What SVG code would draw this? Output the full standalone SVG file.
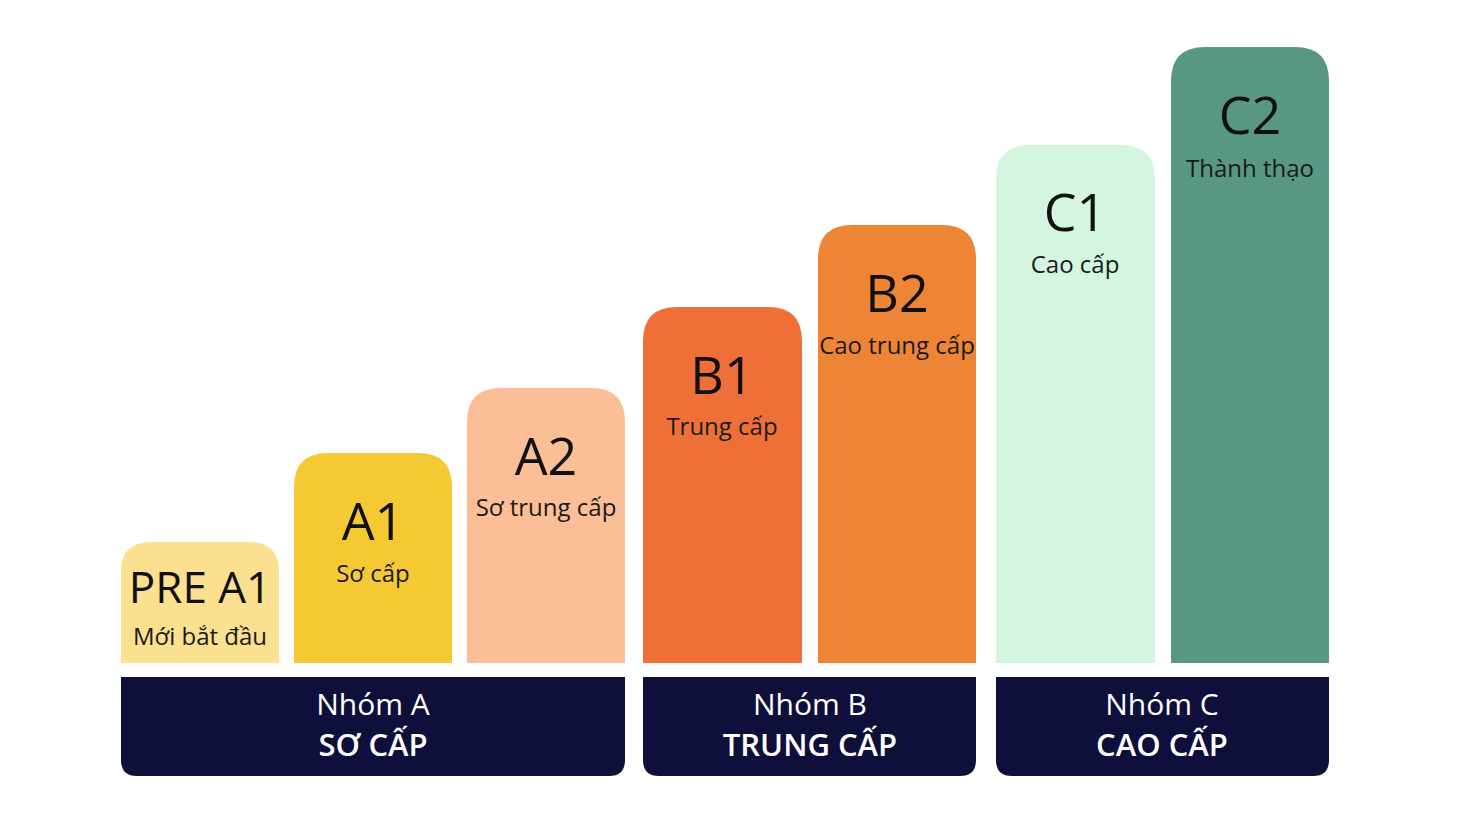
<svg xmlns="http://www.w3.org/2000/svg" width="1464" height="819" viewBox="0 0 1464 819">
<style>
.h{font-family:"Open Sans","Noto Sans",sans-serif;font-size:52px;fill:#111;text-anchor:middle}
.s{font-family:"Open Sans","Noto Sans",sans-serif;font-size:24px;fill:#1a1a1a;text-anchor:middle}
.g1{font-family:"Open Sans","Noto Sans",sans-serif;font-size:30px;fill:#fff;text-anchor:middle}
.g2{font-family:"Open Sans","Noto Sans",sans-serif;font-size:31px;font-weight:600;fill:#fff;text-anchor:middle}
.band{fill:#0e0f3a}
</style>
<rect width="1464" height="819" fill="#ffffff"/>
<g id="preA1"><path d="M121,663 V572 Q121,542 151,542 H249 Q279,542 279,572 V663 Z" fill="#fbe08f"/><text class="h" x="200" y="603" style="font-size:44px">PRE A1</text><text class="s" x="200" y="645">Mới bắt đầu</text></g>
<g id="A1"><path d="M294,663 V487 Q294,453 328,453 H418 Q452,453 452,487 V663 Z" fill="#f4c934"/><text class="h" x="373" y="540">A1</text><text class="s" x="373" y="582">Sơ cấp</text></g>
<g id="A2"><path d="M467,663 V422 Q467,388 501,388 H591 Q625,388 625,422 V663 Z" fill="#fbbe97"/><text class="h" x="546" y="475">A2</text><text class="s" x="546" y="516">Sơ trung cấp</text></g>
<g id="B1"><path d="M643,663 V341 Q643,307 677,307 H768 Q802,307 802,341 V663 Z" fill="#ee7038"/><text class="h" x="722" y="394">B1</text><text class="s" x="722" y="435">Trung cấp</text></g>
<g id="B2"><path d="M818,663 V259 Q818,225 852,225 H942 Q976,225 976,259 V663 Z" fill="#ee8435"/><text class="h" x="897" y="312">B2</text><text class="s" x="897" y="354">Cao trung cấp</text></g>
<g id="C1"><path d="M996,663 V179 Q996,145 1030,145 H1121 Q1155,145 1155,179 V663 Z" fill="#d4f5df"/><text class="h" x="1075" y="231">C1</text><text class="s" x="1075" y="273">Cao cấp</text></g>
<g id="C2"><path d="M1171,663 V81 Q1171,47 1205,47 H1295 Q1329,47 1329,81 V663 Z" fill="#589783"/><text class="h" x="1250" y="134">C2</text><text class="s" x="1250" y="177">Thành thạo</text></g>
<g id="nhomA"><path class="band" d="M121,677 H625 V760 Q625,776 609,776 H137 Q121,776 121,760 Z"/><text class="g1" x="373" y="715">Nhóm A</text><text class="g2" x="373" y="756">SƠ CẤP</text></g>
<g id="nhomB"><path class="band" d="M643,677 H976 V760 Q976,776 960,776 H659 Q643,776 643,760 Z"/><text class="g1" x="810" y="715">Nhóm B</text><text class="g2" x="810" y="756">TRUNG CẤP</text></g>
<g id="nhomC"><path class="band" d="M996,677 H1329 V760 Q1329,776 1313,776 H1012 Q996,776 996,760 Z"/><text class="g1" x="1162" y="715">Nhóm C</text><text class="g2" x="1162" y="756">CAO CẤP</text></g>
<g id="connectors"/>
</svg>
